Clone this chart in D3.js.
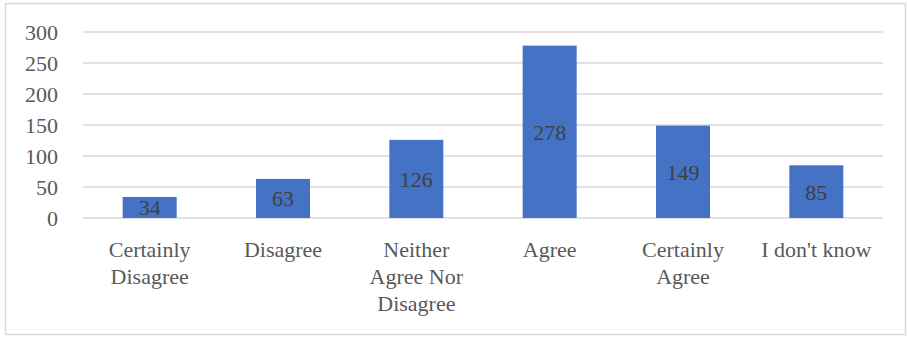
<!DOCTYPE html>
<html>
<head>
<meta charset="utf-8">
<script src="https://cdn.jsdelivr.net/npm/d3@7"></script>
<style>
  body { margin: 0; background: #fff; }
  svg text { font-family: "Liberation Serif", "DejaVu Serif", serif; }
</style>
</head>
<body>
<div id="chart"></div>
<script>
// data
const categories = ["Certainly Disagree", "Disagree", "Neither Agree Nor Disagree", "Agree", "Certainly Agree", "I don't know"];
const categoryLines = [["Certainly", "Disagree"], ["Disagree"], ["Neither", "Agree Nor", "Disagree"], ["Agree"], ["Certainly", "Agree"], ["I don't know"]];
const values = [34, 63, 126, 278, 149, 85];
const yTicks = [0, 50, 100, 150, 200, 250, 300];

const width = 908, height = 337;
const margin = { top: 32, right: 25, bottom: 119, left: 83 };

const svg = d3.select("#chart")
    .append("svg")
    .attr("width", width)
    .attr("height", height);

// outer frame
svg.append("rect")
    .attr("x", 5.5)
    .attr("y", 3.5)
    .attr("width", 900)
    .attr("height", 331)
    .attr("fill", "none")
    .attr("stroke", "#d9d9d9")
    .attr("stroke-width", 1.5);

const x = d3.scaleBand()
    .domain(categories)
    .range([margin.left, width - margin.right])
    .paddingInner(0.595)
    .paddingOuter(0.2975);

const y = d3.scaleLinear()
    .domain([0, 300])
    .range([height - margin.bottom, margin.top]);

// gridlines
svg.append("g")
    .selectAll("line")
    .data(yTicks)
    .enter()
    .append("line")
    .attr("x1", margin.left)
    .attr("x2", width - margin.right)
    .attr("y1", d => y(d))
    .attr("y2", d => y(d))
    .attr("stroke", "#d9d9d9")
    .attr("stroke-width", 1.3);

// y axis labels
let yAxis = d3.axisLeft(y).tickValues(yTicks).tickSize(0).tickPadding(0);
svg.append("g")
    .attr("transform", "translate(58,0)")
    .call(yAxis)
    .call(g => g.select(".domain").remove())
    .selectAll("text")
    .attr("fill", "#595959")
    .style("font-size", "22px")
    .style("font-family", "'Liberation Serif', serif")
    .attr("dy", "0.35em");

// bars
svg.selectAll("rect.bar")
    .data(values)
    .enter()
    .append("rect")
    .attr("class", "bar")
    .attr("x", (d, i) => x(categories[i]))
    .attr("width", x.bandwidth())
    .attr("y", d => y(d))
    .attr("height", d => y(0) - y(d))
    .attr("fill", "#4472C4");

// value labels
svg.selectAll("text.val")
    .data(values)
    .enter()
    .append("text")
    .attr("class", "val")
    .attr("x", (d, i) => x(categories[i]) + x.bandwidth() / 2)
    .attr("y", d => (y(d) + y(0)) / 2)
    .attr("dy", "0.36em")
    .attr("text-anchor", "middle")
    .attr("fill", "#404040")
    .style("font-size", "22px")
    .text(d => d);

// category labels
let xl = svg.append("g")
    .selectAll("text")
    .data(categoryLines)
    .enter()
    .append("text")
    .attr("text-anchor", "middle")
    .attr("fill", "#595959")
    .style("font-size", "22px")
    .attr("transform", (d, i) => "translate(" + (x(categories[i]) + x.bandwidth() / 2) + ",257)");

xl.selectAll("tspan")
    .data(d => d)
    .enter()
    .append("tspan")
    .attr("x", 0)
    .attr("y", (d, i) => i * 27)
    .text(d => d);
</script>
</body>
</html>
